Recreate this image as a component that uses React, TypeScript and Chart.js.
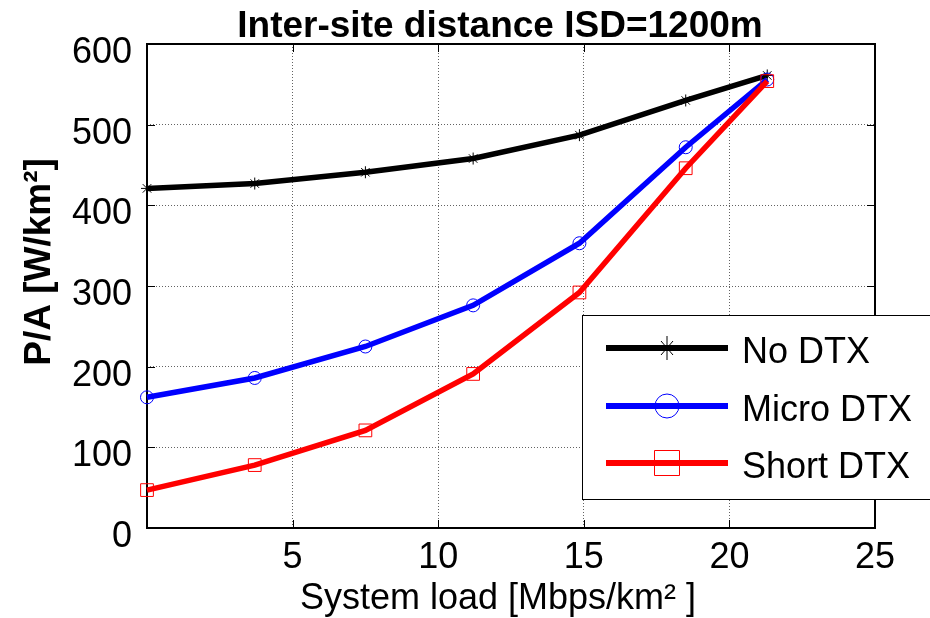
import React, { useEffect, useRef } from "react";
import { Chart, registerables } from "chart.js";

Chart.register(...registerables);

const FONT = "'Liberation Sans', Arial, Helvetica, sans-serif";

const titleText = "Inter-site distance ISD=1200m";
const xTitle = "System load [Mbps/km² ]";
const yTitle = "P/A [W/km²]";

const xLoad = [0, 3.7, 7.5, 11.2, 14.85, 18.5, 21.3];
const noDtx = [421, 427, 441, 458, 487, 530, 561];
const microDtx = [162, 186, 225, 276, 353, 472, 556];
const shortDtx = [47, 78, 121, 191, 292, 446, 554];

const seriesNames = ["No DTX", "Micro DTX", "Short DTX"];
const seriesColors = ["#000000", "#0000ff", "#ff0000"];

const xTicks = [5, 10, 15, 20, 25];
const yTicks = [0, 100, 200, 300, 400, 500, 600];

function toPoints(ys: number[]) {
  return ys.map((y, i) => ({ x: xLoad[i], y }));
}

const framePlugin = {
  id: "frame",
  beforeDatasetsDraw(chart: any) {
    const { ctx, chartArea } = chart;
    const { left, right, top, bottom } = chartArea;
    const xs = chart.scales.x;
    const ys = chart.scales.y;
    ctx.save();
    ctx.strokeStyle = "#000";
    ctx.lineWidth = 1;
    const tl = 8;
    ctx.beginPath();
    for (const t of xTicks) {
      const px = Math.round(xs.getPixelForValue(t)) + 0.5;
      ctx.moveTo(px, bottom);
      ctx.lineTo(px, bottom - tl);
      ctx.moveTo(px, top);
      ctx.lineTo(px, top + tl);
    }
    for (const t of yTicks) {
      const py = Math.round(ys.getPixelForValue(t)) + 0.5;
      ctx.moveTo(left, py);
      ctx.lineTo(left + tl, py);
      ctx.moveTo(right, py);
      ctx.lineTo(right - tl, py);
    }
    ctx.stroke();
    ctx.lineWidth = 2;
    ctx.strokeRect(left, top, right - left, bottom - top);
    ctx.restore();
  },
  afterDraw(chart: any) {
    const { ctx } = chart;
    ctx.save();
    ctx.fillStyle = "#000";
    // title
    ctx.font = `bold 37px ${FONT}`;
    ctx.textAlign = "center";
    ctx.textBaseline = "alphabetic";
    ctx.fillText(titleText, 500, 37);
    // x title
    ctx.font = `36px ${FONT}`;
    ctx.fillText(xTitle, 498, 609);
    // y title
    ctx.save();
    ctx.translate(50, 262);
    ctx.rotate(-Math.PI / 2);
    ctx.font = `bold 37px ${FONT}`;
    ctx.fillText(yTitle, 0, 0);
    ctx.restore();

    // legend
    const bx = 582, by = 315, bw = 360, bh = 184;
    ctx.fillStyle = "#fff";
    ctx.fillRect(bx, by, bw, bh);
    ctx.strokeStyle = "#000";
    ctx.lineWidth = 1;
    ctx.strokeRect(bx + 0.5, by + 0.5, bw, bh);
    const rowsY = [348, 406, 463];
    chart.data.datasets.forEach((ds: any, i: number) => {
      const y = rowsY[i];
      ctx.strokeStyle = ds.borderColor;
      ctx.lineWidth = 6;
      ctx.beginPath();
      ctx.moveTo(606, y);
      ctx.lineTo(728, y);
      ctx.stroke();
      ctx.lineWidth = 1;
      const cx = 667;
      ctx.beginPath();
      if (ds.pointStyle === "star") {
        ctx.moveTo(cx, y - 12);
        ctx.lineTo(cx, y + 12);
        ctx.moveTo(cx - 6, y - 7);
        ctx.lineTo(cx + 6, y + 7);
        ctx.moveTo(cx + 6, y - 7);
        ctx.lineTo(cx - 6, y + 7);
        ctx.moveTo(cx - 8, y);
        ctx.lineTo(cx + 8, y);
      } else if (ds.pointStyle === "circle") {
        ctx.arc(cx, y, 12, 0, Math.PI * 2);
      } else {
        ctx.rect(cx - 12.5, y - 12.5, 25, 25);
      }
      ctx.stroke();
      ctx.fillStyle = "#000";
      ctx.font = `36px ${FONT}`;
      ctx.textAlign = "left";
      ctx.textBaseline = "alphabetic";
      ctx.fillText(ds.label, 742, y + 15);
    });
    ctx.restore();
  },
};

export default function App() {
  const ref = useRef<HTMLCanvasElement | null>(null);
  useEffect(() => {
    if (!ref.current) return;
    const seriesData = [noDtx, microDtx, shortDtx];
    const styles = [
      { pointStyle: "star", pointRadius: 6 },
      { pointStyle: "circle", pointRadius: 6.5 },
      { pointStyle: "rect", pointRadius: 9 },
    ];
    const chart = new Chart(ref.current, {
      type: "line",
      data: {
        datasets: seriesData.map((d, i) => ({
          label: seriesNames[i],
          data: toPoints(d),
          borderColor: seriesColors[i],
          backgroundColor: "rgba(0,0,0,0)",
          borderWidth: 5.5,
          pointStyle: styles[i].pointStyle as any,
          pointRadius: styles[i].pointRadius,
          pointBorderColor: seriesColors[i],
          pointBackgroundColor: "rgba(0,0,0,0)",
          pointBorderWidth: 1,
          tension: 0,
          clip: false as any,
          order: 3 - i,
        })),
      },
      options: {
        responsive: false,
        animation: false,
        devicePixelRatio: 1,
        layout: { padding: { left: 0, right: 55, top: 44, bottom: 0 } },
        plugins: {
          legend: { display: false },
          title: { display: false },
          tooltip: { enabled: false },
        },
        scales: {
          x: {
            type: "linear",
            min: 0,
            max: 25,
            afterFit: (s: any) => {
              s.height = 90;
            },
            afterBuildTicks: (s: any) => {
              s.ticks = [0, ...xTicks].map((v) => ({ value: v }));
            },
            ticks: {
              color: "#000",
              font: { family: FONT, size: 36 },
              padding: 8,
              maxRotation: 0,
              callback: (v: any) => (v === 0 ? "" : String(v)),
            },
            grid: { color: "rgba(60,60,60,0.8)", lineWidth: 1, drawTicks: false },
            border: { display: false, dash: [1, 2] },
          },
          y: {
            type: "linear",
            min: 0,
            max: 600,
            afterFit: (s: any) => {
              s.width = 147;
            },
            afterBuildTicks: (s: any) => {
              s.ticks = yTicks.map((v) => ({ value: v }));
            },
            ticks: {
              color: "#000",
              font: { family: FONT, size: 36 },
              padding: 15,
              labelOffset: 9,
            },
            grid: { color: "rgba(60,60,60,0.8)", lineWidth: 1, drawTicks: false },
            border: { display: false, dash: [1, 2] },
          },
        },
      },
      plugins: [framePlugin],
    });
    return () => chart.destroy();
  }, []);
  return (
    <div style={{ position: "fixed", left: 0, top: 0, width: 930, height: 618, background: "#fff" }}>
      <canvas ref={ref} width={930} height={618} style={{ width: 930, height: 618 }} />
    </div>
  );
}
